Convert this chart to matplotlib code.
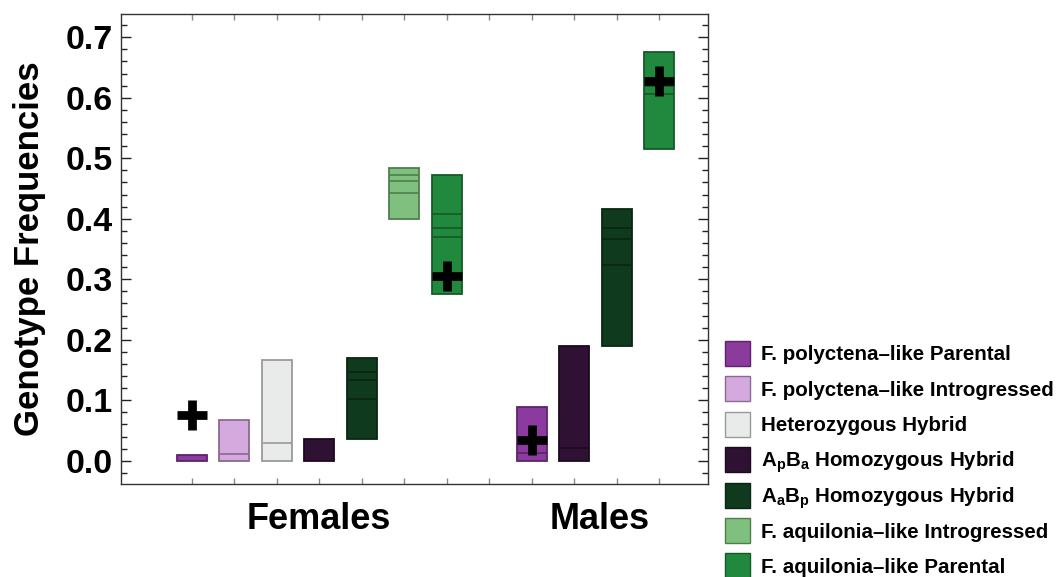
import matplotlib
matplotlib.use("Agg")
import matplotlib.pyplot as plt
from matplotlib.patches import Rectangle
from matplotlib.ticker import MultipleLocator, FixedLocator
import matplotlib.transforms as mtransforms

plt.rcParams["font.family"] = ["Liberation Sans", "DejaVu Sans"]
plt.rcParams["font.weight"] = "bold"
plt.rcParams["mathtext.fontset"] = "custom"
plt.rcParams["mathtext.rm"] = "Liberation Sans:bold"
plt.rcParams["mathtext.bf"] = "Liberation Sans:bold"

genotypes = ["F. polyctena\u2013like Parental",
             "F. polyctena\u2013like Introgressed",
             "Heterozygous Hybrid",
             r"A$_\mathbf{p}$B$_\mathbf{a}$ Homozygous Hybrid",
             r"A$_\mathbf{a}$B$_\mathbf{p}$ Homozygous Hybrid",
             "F. aquilonia\u2013like Introgressed",
             "F. aquilonia\u2013like Parental"]
fills = ["#8B3A9E", "#D4AADE", "#E9EBEA", "#2F1134", "#0F3A1D", "#80C07E", "#20893E"]
edges = ["#5A2468", "#8A6A90", "#9A9A9A", "#1A0A1E", "#0A2612", "#4F7F4E", "#145A28"]

# females: all seven genotypes
female_pos = [0, 1, 2, 3, 4, 5, 6]
female_geno = [0, 1, 2, 3, 4, 5, 6]
female_low = [0.0, 0.0, 0.0, 0.0, 0.036, 0.399, 0.276]
female_high = [0.009, 0.067, 0.166, 0.036, 0.170, 0.484, 0.473]
female_lines = [[], [0.011], [0.030], [], [0.102, 0.133, 0.146],
                [0.442, 0.463, 0.472], [0.370, 0.385, 0.408]]
female_obs = [0.075, None, None, None, None, None, 0.305]

# males: four genotypes
male_pos = [8, 9, 10, 11]
male_geno = [0, 3, 4, 6]
male_low = [0.0, 0.0, 0.190, 0.515]
male_high = [0.088, 0.190, 0.416, 0.675]
male_lines = [[0.013], [0.021], [0.323, 0.366, 0.384], [0.606, 0.619]]
male_obs = [0.034, None, None, 0.627]

group_names = ["Females", "Males"]
group_x = [3.0, 9.6]

W, H = 1059, 577
fig = plt.figure(figsize=(W / 100, H / 100), dpi=100)
ax = fig.add_axes([0.114, 0.1612, 0.5549, 0.814])

bw = 0.7
for pos, geno, lo, hi, lines, obs in [*zip(female_pos, female_geno, female_low, female_high, female_lines, female_obs),
                                      *zip(male_pos, male_geno, male_low, male_high, male_lines, male_obs)]:
    ax.bar(pos, hi - lo, bottom=lo, width=bw, color=fills[geno],
           edgecolor=edges[geno], linewidth=1.3, zorder=2)
    if lines:
        ax.hlines(lines, pos - bw / 2, pos + bw / 2, colors=edges[geno], linewidth=1.2, zorder=3)
    if obs is not None:
        ax.plot(pos, obs, marker="+", color="black", markersize=21, mew=6.3, zorder=4)

ax.set_xlim(-1.671, 12.155)
ax.set_ylim(-0.0385, 0.738)

ax.yaxis.set_major_locator(MultipleLocator(0.1))
ax.yaxis.set_minor_locator(MultipleLocator(0.02))
ax.yaxis.set_major_formatter(plt.FormatStrFormatter("%.1f"))
ax.tick_params(axis="y", which="both", direction="in", left=True, right=True,
               color="#222222", labelcolor="black")
ax.tick_params(axis="y", which="major", length=7, width=1, labelsize=24.5, pad=6)
ax.tick_params(axis="y", which="minor", length=4.5, width=1)
ax.xaxis.set_major_locator(FixedLocator(range(12)))
ax.tick_params(axis="x", which="major", direction="in", top=True, bottom=True,
               length=4, width=1, color="#888888", labelbottom=False)
for lbl in ax.get_yticklabels():
    lbl.set_fontweight("bold")
for sp in ax.spines.values():
    sp.set_color("#333333")
    sp.set_linewidth(1)

ax.set_ylabel("Genotype Frequencies", fontsize=25, fontweight="bold", color="black")
ax.yaxis.set_label_coords(-0.127, 0.5)

trans = mtransforms.blended_transform_factory(ax.transData, ax.transAxes)
for name, gx in zip(group_names, group_x):
    ax.text(gx, -0.0958, name, transform=trans, ha="center", va="baseline",
            fontsize=26, fontweight="bold", color="black")

# legend drawn as swatches + text, in figure pixels
sw = 25
row0, pitch = 353.5, 35.4
for i, (name, f, e) in enumerate(zip(genotypes, fills, edges)):
    yc = row0 + pitch * i
    fig.add_artist(Rectangle((725 / W, 1 - (yc + sw / 2) / H), sw / W, sw / H,
                             facecolor=f, edgecolor=e, linewidth=1, transform=fig.transFigure))
    fig.text(761 / W, 1 - (yc + 7) / H, name, ha="left", va="baseline",
             fontsize=14.8, fontweight="bold", color="black")

fig.savefig("out.png", dpi=100)
